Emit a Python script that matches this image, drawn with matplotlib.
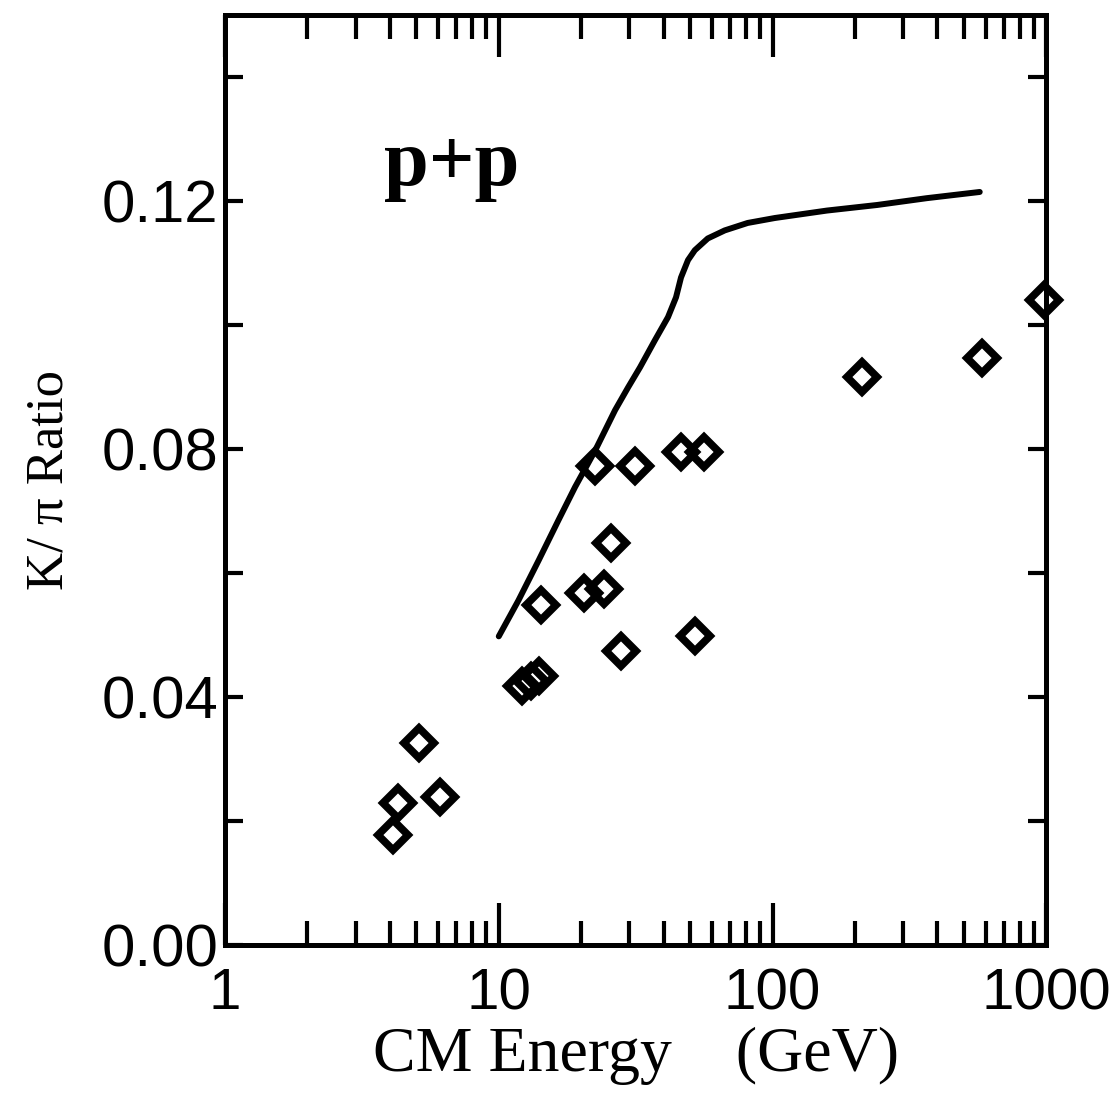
import numpy as np
import matplotlib.pyplot as plt
from matplotlib.ticker import FixedLocator, LogLocator, NullFormatter


ENERGY = [4.1, 4.3, 5.1, 6.1, 12.2, 13.1, 14.0, 14.3, 20.4, 24.2, 25.8,
          22.4, 31.4, 27.9, 46.2, 56.1, 52.0, 212, 584, 984]
RATIO = [0.0177, 0.0229, 0.0326, 0.0239, 0.0418, 0.0426, 0.0434, 0.0548,
         0.0568, 0.0574, 0.0648, 0.0773, 0.0773, 0.0474, 0.0795, 0.0795,
         0.0498, 0.0916, 0.0947, 0.104]

# model curve
CURVE_E = [10.0, 11.8, 14.0, 16.5, 19.0, 22.5, 26.6, 29.7, 32.8, 37.2, 41.5,
           44.4, 46.3, 49.1, 52.0, 58.0, 66.9, 81.1, 102, 158, 241, 366, 571]
CURVE_R = [0.0498, 0.0556, 0.0621, 0.0685, 0.0739, 0.0798, 0.0863, 0.0900,
           0.0932, 0.0976, 0.1013, 0.1045, 0.1077, 0.1105, 0.1121, 0.1140,
           0.1153, 0.1165, 0.1173, 0.1185, 0.1194, 0.1205, 0.1215]

Y_TICKS = [0.00, 0.04, 0.08, 0.12]
Y_LABELS = ['0.00', '0.04', '0.08', '0.12']
X_TICKS = [1, 10, 100, 1000]
X_LABELS = ['1', '10', '100', '1000']

fig = plt.figure(figsize=(11.16, 10.95), dpi=100)
ax = fig.add_axes([0.2016, 0.137, 0.736, 0.849])

ax.plot(CURVE_E, CURVE_R, color='black', lw=4.3, solid_capstyle='round',
        solid_joinstyle='round')
ax.plot(ENERGY, RATIO, ls='none', marker='D', ms=15.5, mew=5.5,
        mfc='none', mec='black', clip_on=False)

ax.set_xscale('log')
ax.set_xlim(1, 1000)
ax.set_ylim(0, 0.15)

ax.set_xticks(X_TICKS)
ax.set_xticklabels(X_LABELS)
ax.xaxis.set_minor_locator(LogLocator(base=10, subs=np.arange(2, 10)))
ax.xaxis.set_minor_formatter(NullFormatter())
ax.set_yticks(Y_TICKS)
ax.set_yticklabels(Y_LABELS)
ax.yaxis.set_minor_locator(FixedLocator([0.02, 0.06, 0.10, 0.14]))

ax.tick_params(axis='x', which='major', direction='in', length=30, width=3,
               top=True, bottom=True, pad=16, labelsize=42)
ax.tick_params(axis='x', which='minor', direction='in', length=17, width=3,
               top=True, bottom=True)
ax.tick_params(axis='y', which='both', direction='in', length=13, width=3,
               left=True, right=True, pad=5, labelsize=43)
for lab in ax.get_xticklabels() + ax.get_yticklabels():
    lab.set_family('Liberation Sans')

for s in ax.spines.values():
    s.set_linewidth(3.6)

ax.set_xlabel('CM Energy    (GeV)', family='Liberation Serif', fontsize=46,
              labelpad=4)
ax.set_ylabel('K/ π Ratio', family='Liberation Serif', fontsize=38,
              labelpad=20)
ax.text(3.8, 0.1226, 'p+p', family='Liberation Serif', fontweight='bold',
        fontsize=58, va='baseline')

plt.savefig('out.png', dpi=100)
